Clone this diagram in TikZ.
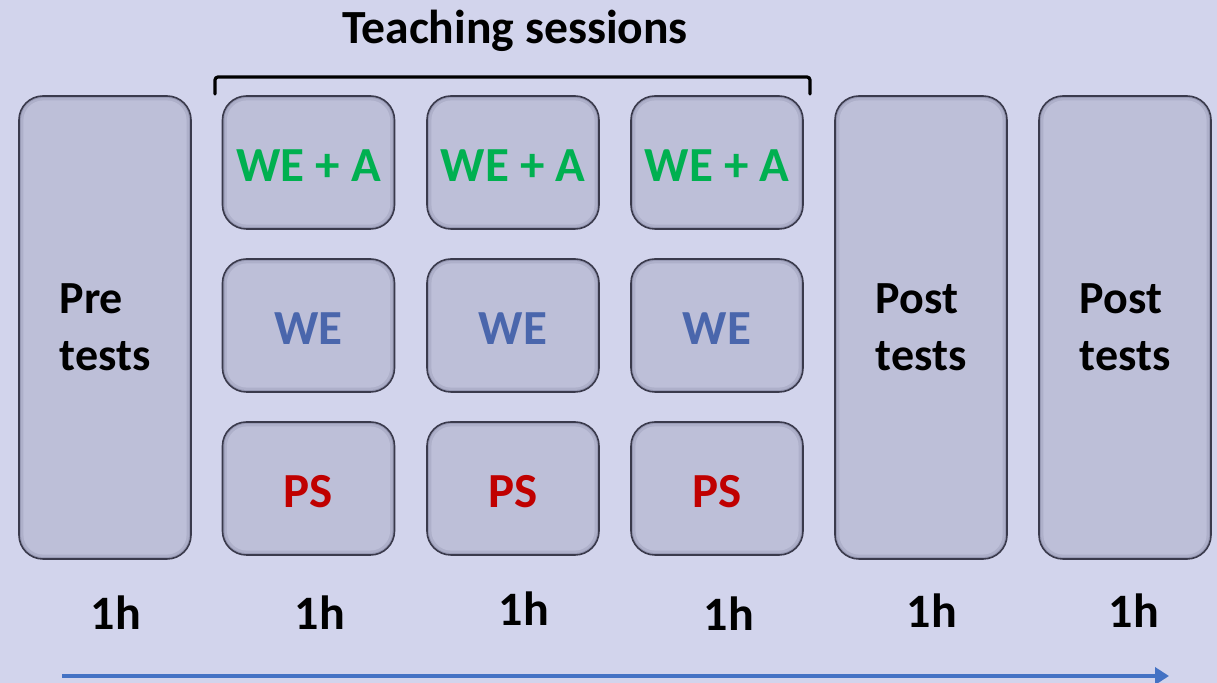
\documentclass[tikz,border=0pt]{standalone}
\usepackage{fontspec}
\setmainfont{Carlito}
\usetikzlibrary{arrows.meta}
\definecolor{bg}{HTML}{D2D4EC}
\definecolor{face}{HTML}{BDBFD8}
\definecolor{edgemid}{HTML}{AEB0CA}
\definecolor{edgedark}{HTML}{989AB5}
\definecolor{border}{HTML}{3A3A4C}
\definecolor{weA}{HTML}{00B050}
\definecolor{weB}{HTML}{4A66AC}
\definecolor{psC}{HTML}{C00000}
\definecolor{arrowc}{HTML}{4472C4}
\tikzset{
  boxbase/.style={rectangle, rounded corners=12pt, draw=border, line width=0.8pt,
    fill=edgedark, inner sep=0pt,
    path picture={
      \fill[edgemid, rounded corners=11pt] ([shift={(1pt,-1pt)}]path picture bounding box.north west) rectangle ([shift={(-1pt,1pt)}]path picture bounding box.south east);
      \fill[face, rounded corners=10pt] ([shift={(2.2pt,-2.2pt)}]path picture bounding box.north west) rectangle ([shift={(-2.2pt,2.2pt)}]path picture bounding box.south east);
    }},
  tallbox/.style={boxbase, minimum width=86pt, minimum height=231.5pt,
    font=\bfseries\fontsize{23}{28.5}\selectfont, align=left},
  smallbox/.style={boxbase, minimum width=86pt, minimum height=66.5pt,
    font=\bfseries\fontsize{24.5}{30}\selectfont, text height=19.5pt, text depth=0pt},
  hourlabel/.style={font=\bfseries\fontsize{24}{28}\selectfont, inner sep=0pt},
  titlelabel/.style={font=\bfseries\fontsize{23.8}{28}\selectfont, inner sep=0pt, anchor=base},
}
\begin{document}
\begin{tikzpicture}[x=0.5pt, y=-0.5pt]
\fill[bg] (0,0) rectangle (1217,683);
\useasboundingbox (0,0) rectangle (1217,683);

% title and bracket
\node[titlelabel] (title) at (515,44) {Teaching sessions};
\coordinate (brL) at (215,94);
\coordinate (brR) at (810,94);
\draw[line width=1.6pt, rounded corners=1.5pt, line cap=round] (brL) -- (215,77) -- (810,77) -- (brR);

% tall boxes
\node[tallbox] (pre) at (105,327.5) {Pre\\tests};
\node[tallbox] (post1) at (921,327.5) {Post\\tests};
\node[tallbox] (post2) at (1125,327.5) {Post\\tests};

% teaching session boxes
\foreach \c/\x in {1/308.5, 2/513, 3/717} {
  \node[smallbox, text=weA] (wea\c) at (\x,162.5) {WE + A};
  \node[smallbox, text=weB] (we\c) at (\x,325.5) {WE};
  \node[smallbox, text=psC] (ps\c) at (\x,488.5) {PS};
}

% hours
\node[hourlabel] (h1) at (116,613) {1h};
\node[hourlabel] (h2) at (320,613) {1h};
\node[hourlabel] (h3) at (524,609) {1h};
\node[hourlabel] (h4) at (729,614) {1h};
\node[hourlabel] (h5) at (932,611) {1h};
\node[hourlabel] (h6) at (1134,611) {1h};

% time arrow
\coordinate (tstart) at (62,676);
\coordinate (tend) at (1169,676);
\draw[arrowc, line width=2pt, -{Triangle[length=7pt, width=8.5pt]}] (tstart) -- (tend);
\end{tikzpicture}
\end{document}
